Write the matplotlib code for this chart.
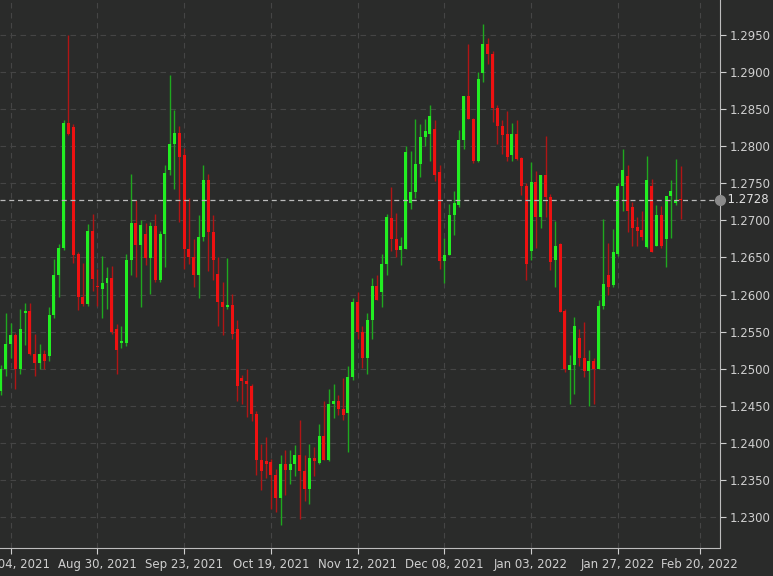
import numpy as np
import matplotlib
matplotlib.use("Agg")
import matplotlib.pyplot as plt

start_date = "2021-08-02"
opens = [1.2470,1.2500,1.2533,1.2545,1.2500,1.2575,1.2578,1.2520,1.2508,1.2520,1.2517,1.2572,1.2627,1.2663,1.2832,1.2826,1.2655,1.2597,1.2587,1.2686,1.2612,1.2607,1.2616,1.2622,1.2554,1.2534,1.2534,
 1.2647,1.2696,1.2667,1.2682,1.2649,1.2692,1.2619,1.2682,1.2768,1.2803,1.2818,1.2788,1.2662,1.2651,1.2626,1.2678,1.2755,1.2685,1.2628,1.2590,1.2583,1.2586,1.2553,1.2488,1.2484,
 1.2477,1.2439,1.2377,1.2375,1.2374,1.2356,1.2326,1.2371,1.2363,1.2371,1.2384,1.2362,1.2338,1.2380,1.2373,1.2409,1.2377,1.2453,1.2457,1.2446,1.2440,1.2489,1.2590,
 1.2549,1.2514,1.2566,1.2612,1.2603,1.2641,1.2703,1.2675,1.2660,1.2662,1.2723,1.2738,1.2776,1.2812,1.2817,1.2823,1.2765,1.2645,1.2653,1.2707,1.2721,1.2808,1.2868,1.2837,1.2780,
 1.2899,1.2938,1.2924,1.2852,1.2827,1.2816,1.2788,1.2816,1.2784,1.2746,1.2659,1.2752,1.2704,1.2761,1.2731,1.2647,1.2668,1.2578,1.2498,1.2505,1.2542,1.2514,1.2497,1.2511,1.2500,
 1.2585,1.2626,1.2613,1.2655,1.2747,1.2760,1.2718,1.2691,1.2687,1.2664,1.2747,1.2665,1.2707,1.2675,1.2733,1.2723,1.2729]
closes = [1.2500,1.2533,1.2545,1.2500,1.2553,1.2578,1.2520,1.2508,1.2520,1.2510,1.2572,1.2627,1.2663,1.2832,1.2817,1.2653,1.2597,1.2587,1.2686,1.2621,1.2610,1.2616,1.2622,1.2549,1.2525,1.2537,1.2647,
 1.2696,1.2667,1.2694,1.2649,1.2692,1.2619,1.2682,1.2764,1.2803,1.2818,1.2786,1.2662,1.2651,1.2626,1.2678,1.2755,1.2685,1.2646,1.2590,1.2583,1.2586,1.2547,1.2476,1.2484,1.2480,
 1.2439,1.2377,1.2362,1.2372,1.2356,1.2326,1.2371,1.2363,1.2372,1.2384,1.2362,1.2338,1.2380,1.2376,1.2409,1.2377,1.2453,1.2457,1.2446,1.2438,1.2489,1.2590,1.2549,
 1.2514,1.2566,1.2612,1.2592,1.2641,1.2704,1.2675,1.2660,1.2665,1.2792,1.2738,1.2776,1.2812,1.2820,1.2841,1.2761,1.2645,1.2653,1.2707,1.2724,1.2808,1.2868,1.2837,1.2780,1.2891,
 1.2938,1.2925,1.2852,1.2827,1.2815,1.2786,1.2816,1.2783,1.2746,1.2641,1.2752,1.2704,1.2761,1.2731,1.2644,1.2666,1.2576,1.2500,1.2505,1.2558,1.2514,1.2497,1.2511,1.2500,1.2585,
 1.2614,1.2610,1.2657,1.2747,1.2768,1.2713,1.2690,1.2686,1.2678,1.2754,1.2658,1.2707,1.2665,1.2733,1.2739,1.2728,1.2728]
highs = [1.2505,1.2575,1.2562,1.2548,1.2580,1.2588,1.2588,1.2547,1.2533,1.2525,1.2583,1.2648,1.2668,1.2836,1.2950,1.2830,1.2658,1.2643,1.2695,1.2708,1.2635,1.2652,1.2637,1.2638,1.2560,1.2558,1.2655,
 1.2763,1.2727,1.2700,1.2696,1.2698,1.2708,1.2686,1.2775,1.2896,1.2849,1.2827,1.2797,1.2730,1.2675,1.2707,1.2775,1.2762,1.2707,1.2650,1.2617,1.2649,1.2601,1.2565,1.2491,1.2500,
 1.2480,1.2443,1.2398,1.2408,1.2378,1.2365,1.2384,1.2390,1.2391,1.2397,1.2431,1.2383,1.2398,1.2395,1.2425,1.2457,1.2473,1.2480,1.2465,1.2487,1.2504,1.2596,1.2603,
 1.2558,1.2575,1.2622,1.2627,1.2655,1.2708,1.2745,1.2710,1.2677,1.2800,1.2793,1.2837,1.2830,1.2837,1.2855,1.2835,1.2775,1.2676,1.2722,1.2740,1.2822,1.2868,1.2938,1.2838,1.2900,
 1.2965,1.2946,1.2928,1.2855,1.2835,1.2847,1.2831,1.2835,1.2786,1.2750,1.2779,1.2766,1.2761,1.2814,1.2735,1.2699,1.2670,1.2580,1.2518,1.2570,1.2553,1.2563,1.2525,1.2515,1.2592,
 1.2702,1.2670,1.2689,1.2750,1.2796,1.2775,1.2725,1.2705,1.2713,1.2787,1.2756,1.2721,1.2719,1.2733,1.2754,1.2783,1.2774]
lows = [1.2465,1.2490,1.2515,1.2473,1.2493,1.2532,1.2518,1.2490,1.2500,1.2500,1.2510,1.2568,1.2597,1.2660,1.2815,1.2643,1.2579,1.2584,1.2585,1.2605,1.2584,1.2568,1.2581,1.2547,1.2493,1.2528,1.2530,
 1.2626,1.2624,1.2583,1.2640,1.2601,1.2617,1.2617,1.2637,1.2761,1.2743,1.2698,1.2635,1.2641,1.2610,1.2595,1.2672,1.2632,1.2620,1.2558,1.2545,1.2581,1.2540,1.2456,1.2452,1.2435,
 1.2430,1.2357,1.2336,1.2353,1.2311,1.2307,1.2289,1.2330,1.2345,1.2355,1.2297,1.2322,1.2318,1.2355,1.2372,1.2377,1.2376,1.2433,1.2437,1.2431,1.2388,1.2485,1.2540,
 1.2501,1.2493,1.2540,1.2592,1.2583,1.2627,1.2659,1.2650,1.2640,1.2662,1.2715,1.2730,1.2758,1.2800,1.2780,1.2753,1.2634,1.2615,1.2653,1.2680,1.2718,1.2796,1.2837,1.2777,1.2779,
 1.2887,1.2911,1.2833,1.2803,1.2789,1.2780,1.2780,1.2781,1.2734,1.2620,1.2646,1.2663,1.2690,1.2704,1.2633,1.2610,1.2576,1.2495,1.2452,1.2466,1.2503,1.2489,1.2450,1.2452,1.2500,
 1.2580,1.2600,1.2610,1.2652,1.2713,1.2684,1.2665,1.2665,1.2673,1.2663,1.2657,1.2665,1.2663,1.2637,1.2676,1.2721,1.2702]
last_price = 1.2728
tick_dates = ["2021-08-04","2021-08-30","2021-09-23","2021-10-19","2021-11-12","2021-12-08","2022-01-03","2022-01-27","2022-02-20"]
tick_labels = ["Aug 04, 2021","Aug 30, 2021","Sep 23, 2021","Oct 19, 2021","Nov 12, 2021","Dec 08, 2021","Jan 03, 2022","Jan 27, 2022","Feb 20, 2022"]
y_ticks = [1.2300,1.2350,1.2400,1.2450,1.2500,1.2550,1.2600,1.2650,1.2700,1.2750,1.2800,1.2850,1.2900,1.2950]

bg = "#2a2b2a"
fig = plt.figure(figsize=(7.73, 5.76), dpi=100, facecolor=bg)
ax = fig.add_axes([0.0, 0.0486, 0.9315, 0.9514], facecolor=bg)

o = np.array(opens); c = np.array(closes); h = np.array(highs); l = np.array(lows)
x = np.arange(len(o))
up = c >= o
ax.vlines(x[up], l[up], h[up], color="#1fa81f", lw=1.0, zorder=3)
ax.vlines(x[~up], l[~up], h[~up], color="#b01515", lw=1.0, zorder=3)
bot = np.minimum(o, c); hgt = np.maximum(np.abs(c - o), 0.00008)
ax.bar(x[up], hgt[up], bottom=bot[up], width=0.62, color="#22ee22", zorder=4)
ax.bar(x[~up], hgt[~up], bottom=bot[~up], width=0.62, color="#ee1111", zorder=4)

tpos = [int(np.busday_count(start_date, d)) for d in tick_dates]
ax.set_xticks(tpos)
ax.set_xticklabels(tick_labels)
ax.set_xlim(-0.2, 149.2)
ax.set_ylim(1.22582, 1.29972)
ax.yaxis.tick_right()
ax.set_yticks(y_ticks)
ax.set_yticklabels([f"{v:.4f}" for v in y_ticks])
ax.tick_params(axis="both", colors="#cfcfcf", labelsize=8.5, length=4)
ax.tick_params(axis="y", pad=3)
ax.grid(True, color="#454545", ls=(0, (5, 4)), lw=0.8)
ax.set_axisbelow(True)
for s in ["top", "left"]:
    ax.spines[s].set_visible(False)
ax.spines["right"].set_color("#bdbdbd")
ax.spines["bottom"].set_color("#bdbdbd")

ax.axhline(last_price, color="#bbbbbb", ls=(0, (4, 3)), lw=0.9, zorder=5)
ax.plot([1.0], [last_price], marker="o", ms=7, color="#8a8a8a", transform=ax.get_yaxis_transform(), clip_on=False, zorder=6)
ax.text(1.0, last_price, f"  {last_price:.4f}", transform=ax.get_yaxis_transform(), color="#e0e0e0",
        fontsize=8.5, va="center", ha="left")

fig.savefig("out.png", dpi=100, facecolor=bg)
